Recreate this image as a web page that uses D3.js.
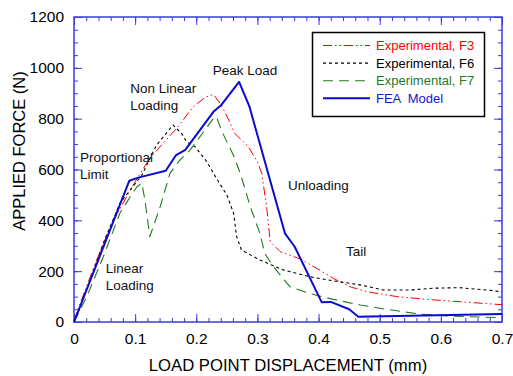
<!DOCTYPE html>
<html>
<head>
<meta charset="utf-8">
<script src="https://cdn.jsdelivr.net/npm/d3@7"></script>
<style>
  body { margin: 0; background: #fff; }
  svg { font-family: "Liberation Sans", Arial, sans-serif; }
</style>
</head>
<body>
<svg id="chart" width="513" height="376"></svg>
<script>
// Data: [displacement (mm), force (N)]
const f3 = [[0,5],[0.005,40],[0.03,200],[0.059,375],[0.089,506],[0.105,572],[0.122,637],[0.143,696],[0.168,762],[0.195,847],[0.215,885],[0.228,895],[0.241,854],[0.252,800],[0.263,742],[0.285,690],[0.3,630],[0.307,585],[0.315,454],[0.321,316],[0.337,277],[0.37,248],[0.397,211],[0.424,172],[0.451,139],[0.479,119],[0.528,100],[0.588,87],[0.642,78],[0.7,68]];
const f6 = [[0,0],[0.005,25],[0.048,310],[0.075,467],[0.094,526],[0.111,578],[0.135,696],[0.162,775],[0.176,742],[0.184,709],[0.198,690],[0.217,631],[0.233,565],[0.25,500],[0.261,428],[0.266,336],[0.274,283],[0.304,244],[0.342,205],[0.386,178],[0.424,162],[0.468,146],[0.506,126],[0.55,126],[0.588,133],[0.631,135],[0.675,126],[0.7,119]];
const f7 = [[0,0],[0.021,100],[0.048,257],[0.075,428],[0.092,493],[0.103,532],[0.111,546],[0.116,480],[0.124,336],[0.141,454],[0.157,585],[0.173,637],[0.19,677],[0.206,729],[0.228,801],[0.233,808],[0.242,749],[0.261,655],[0.272,585],[0.288,456],[0.304,349],[0.312,270],[0.326,218],[0.353,139],[0.386,112],[0.424,89],[0.468,67],[0.511,50],[0.566,31],[0.61,24],[0.642,21],[0.7,17]];
const fea = [[0,0],[0.0905,556],[0.105,568],[0.15,595],[0.167,657],[0.182,677],[0.228,827],[0.241,854],[0.27,945],[0.287,847],[0.345,349],[0.361,296],[0.405,78],[0.42,79],[0.45,50],[0.465,21],[0.7,31]];

const xTicks = [0, 0.1, 0.2, 0.3, 0.4, 0.5, 0.6, 0.7];
const yTicks = [0, 200, 400, 600, 800, 1000, 1200];
const seriesNames = ["Experimental, F3", "Experimental, F6", "Experimental, F7", "FEA  Model"];
const notes = [
  { lines: ["Non Linear", "Loading"], x: 0.092, y: 901 },
  { lines: ["Proportional", "Limit"], x: 0.010, y: 630 },
  { lines: ["Linear", "Loading"], x: 0.052, y: 193 },
  { lines: ["Peak Load"], x: 0.227, y: 972 },
  { lines: ["Unloading"], x: 0.350, y: 519 },
  { lines: ["Tail"], x: 0.445, y: 260 }
];

const svg = d3.select("#chart");
const box = { left: 74, right: 502, top: 17, bottom: 322 };
const axisColor = "#3a3ae6";

const x = d3.scaleLinear().domain([0, 0.7]).range([box.left, box.right]);
const y = d3.scaleLinear().domain([0, 1200]).range([box.bottom, box.top]);

// minor ticks (inward, all four sides)
const xMinor = d3.range(0, 0.7001, 0.02);
const yMinor = d3.range(0, 1200.1, 50);

function styleAxis(g) {
  g.select(".domain").remove();
  g.selectAll(".tick line").attr("stroke", axisColor);
}

svg.append("g").attr("transform", `translate(0,${box.bottom})`)
  .call(d3.axisBottom(x).tickValues(xMinor).tickSize(-4).tickFormat(""))
  .call(styleAxis);
svg.append("g").attr("transform", `translate(0,${box.top})`)
  .call(d3.axisTop(x).tickValues(xMinor).tickSize(-4).tickFormat(""))
  .call(styleAxis);
svg.append("g").attr("transform", `translate(${box.left},0)`)
  .call(d3.axisLeft(y).tickValues(yMinor).tickSize(-4).tickFormat(""))
  .call(styleAxis);
svg.append("g").attr("transform", `translate(${box.right},0)`)
  .call(d3.axisRight(y).tickValues(yMinor).tickSize(-4).tickFormat(""))
  .call(styleAxis);

// major ticks with labels
const xAxis = svg.append("g").attr("transform", `translate(0,${box.bottom})`)
  .call(d3.axisBottom(x).tickValues(xTicks).tickSize(-8).tickPadding(11)
    .tickFormat(d => d === 0 ? "0" : d3.format(".1f")(d)))
  .call(styleAxis);
xAxis.selectAll("text").attr("fill", "#000").style("font-size", "15.5px");

const yAxis = svg.append("g").attr("transform", `translate(${box.left},0)`)
  .call(d3.axisLeft(y).tickValues(yTicks).tickSize(-8).tickPadding(10).tickFormat(d3.format("d")))
  .call(styleAxis);
yAxis.selectAll("text").attr("fill", "#000").style("font-size", "15.5px");

svg.append("g").attr("transform", `translate(0,${box.top})`)
  .call(d3.axisTop(x).tickValues(xTicks).tickSize(-8).tickFormat(""))
  .call(styleAxis);
svg.append("g").attr("transform", `translate(${box.right},0)`)
  .call(d3.axisRight(y).tickValues(yTicks).tickSize(-8).tickFormat(""))
  .call(styleAxis);

// frame
svg.append("rect")
  .attr("x", box.left).attr("y", box.top)
  .attr("width", box.right - box.left).attr("height", box.bottom - box.top)
  .attr("fill", "none")
  .attr("stroke", axisColor)
  .attr("stroke-width", 1.5);

// series
const line = d3.line().x(d => x(d[0])).y(d => y(d[1]));
const series = [
  { data: f3, color: "#ff0000", width: 1, dash: "9,3,1.5,3,1.5,3", text: "#ff0000" },
  { data: f6, color: "#000000", width: 1.1, dash: "3,3", text: "#000000" },
  { data: f7, color: "#1f7a1f", width: 1.1, dash: "10,6", text: "#1f7a1f" },
  { data: fea, color: "#0a0ad2", width: 2, dash: null, text: "#1515d0" }
];

series.forEach(s => {
  svg.append("path")
    .datum(s.data)
    .attr("d", line)
    .attr("fill", "none")
    .attr("stroke", s.color)
    .attr("stroke-width", s.width)
    .attr("stroke-dasharray", s.dash)
    .attr("stroke-linejoin", "round");
});

// annotations
notes.forEach(n => {
  const t = svg.append("text")
    .attr("x", x(n.x)).attr("y", y(n.y))
    .style("font-size", "13.5px")
    .attr("fill", "#111");
  n.lines.forEach((l, i) => {
    t.append("tspan").attr("x", x(n.x)).attr("dy", i === 0 ? 0 : 17).text(l);
  });
});

// axis titles
svg.append("text")
  .attr("x", (box.left + box.right) / 2).attr("y", 371)
  .attr("text-anchor", "middle")
  .style("font-size", "16.7px")
  .text("LOAD POINT DISPLACEMENT (mm)");

svg.append("text")
  .attr("transform", "translate(25,151) rotate(-90)")
  .attr("text-anchor", "middle")
  .style("font-size", "16.5px")
  .text("APPLIED FORCE (N)");

// legend
const lg = svg.append("g");
lg.append("rect")
  .attr("x", 312.5).attr("y", 32.5)
  .attr("width", 172).attr("height", 84)
  .attr("fill", "#fff")
  .attr("stroke", "#000")
  .attr("stroke-width", 1.5);

series.forEach((s, i) => {
  const yy = 45.5 + i * 17.6;
  lg.append("line")
    .attr("x1", 323).attr("x2", 370)
    .attr("y1", yy).attr("y2", yy)
    .attr("stroke", s.color)
    .attr("stroke-width", s.width)
    .attr("stroke-dasharray", s.dash);
  lg.append("text")
    .attr("x", 376).attr("y", yy + 4.5)
    .style("font-size", "13px")
    .style("white-space", "pre")
    .attr("fill", s.text)
    .text(seriesNames[i]);
});
</script>
</body>
</html>
